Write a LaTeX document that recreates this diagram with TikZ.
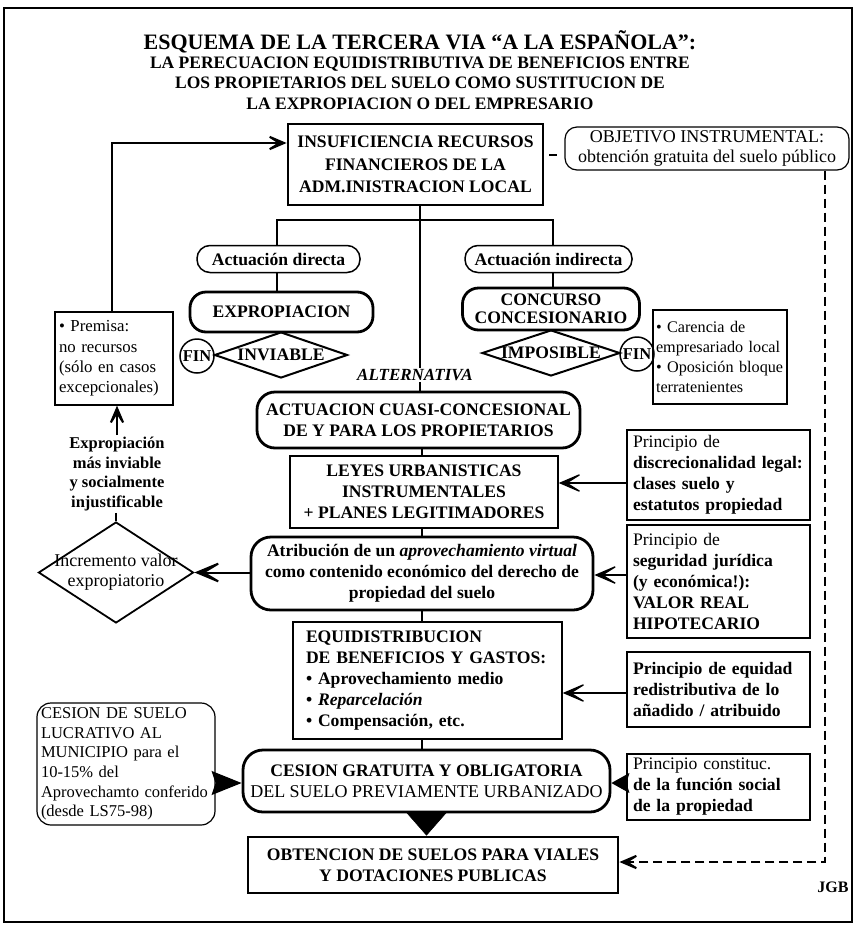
\documentclass[tikz,border=0pt]{standalone}
\usepackage{fontspec}
\setmainfont{Liberation Serif}
\usetikzlibrary{arrows.meta,shapes.geometric}

\newcommand\bodysize{\fontsize{17.6}{21}\selectfont}
\newcommand\sidesize{\fontsize{16.5}{19.6}\selectfont}

\tikzset{
  heavybox/.style={draw, line width=2.8pt, inner sep=0pt, align=center, font=\bodysize\bfseries},
  lightbox/.style={draw, line width=1.2pt, inner sep=0pt},
  notebox/.style={lightbox, align=left, inner xsep=4pt, font=\sidesize},
  principle/.style={lightbox, align=left, inner xsep=6pt, text width=171pt, minimum width=183pt, font=\bodysize},
  gate/.style={diamond, draw, line width=2pt, inner sep=0pt},
  endmark/.style={circle, draw, line width=1.5pt, minimum size=34pt, inner sep=0pt, font=\fontsize{16.5}{18}\selectfont\bfseries},
  trunk/.style={line width=2.8pt},
  bigbarb/.tip={Stealth[length=28pt,width=24pt,inset=19pt]},
  ptr/.style={line width=1.3pt, -bigbarb},
  heavyptr/.style={line width=2pt, -bigbarb},
  solidptr/.style={line width=1.3pt, -{Stealth[length=18pt,width=20pt,inset=3pt]}},
  dashline/.style={line width=2pt, dash pattern=on 9pt off 5pt},
}

\begin{document}
\begin{tikzpicture}[x=1pt,y=-1pt]
\useasboundingbox (0,0) rectangle (855,927);
\draw[line width=1.3pt] (4,8) rectangle (852,922);

% heading
\node[font=\fontsize{22}{26}\selectfont\bfseries] (t1) at (420,42)
  {ESQUEMA DE LA TERCERA VIA “A LA ESPAÑOLA”:};
\node[align=center, font=\fontsize{17.5}{20.3}\selectfont\bfseries] (t2) at (420,83)
  {LA PERECUACION EQUIDISTRIBUTIVA DE BENEFICIOS ENTRE\\
   LOS PROPIETARIOS DEL SUELO COMO SUSTITUCION DE\\
   LA EXPROPIACION O DEL EMPRESARIO};

% helper positions
\coordinate (tr)  at (420,0);
\coordinate (cx)  at (422,0);
\coordinate (lbr) at (277,0);
\coordinate (rbr) at (553,0);
\coordinate (bar) at (0,220);
\coordinate (fb)  at (112,0);
\coordinate (ex)  at (117,0);
\coordinate (dl)  at (825,0);
\coordinate (y0)  at (0,143);
\coordinate (y1)  at (0,155);
\coordinate (y2)  at (0,862);
\coordinate (a1)  at (0,483);
\coordinate (a2)  at (0,575);
\coordinate (a3)  at (0,693);
\coordinate (a4)  at (0,783);

% central column
\node[heavybox, minimum width=255pt, minimum height=81pt] (top) at (415.5,164.5)
  {INSUFICIENCIA RECURSOS\\[1.5pt]FINANCIEROS DE LA\\[1.5pt]ADM.INISTRACION LOCAL};

\node[lightbox, line width=1.2pt, rounded corners=12pt, minimum width=284pt, minimum height=43pt,
      align=center, font=\fontsize{18}{20}\selectfont] (obj) at (707,148.5)
  {OBJETIVO INSTRUMENTAL:\\obtención gratuita del suelo público};

\node[lightbox, line width=1.5pt, rounded corners=13pt, minimum width=163pt, minimum height=27pt,
      font=\bodysize\bfseries] (dir) at (278.5,259) {Actuación directa};
\node[lightbox, line width=1.5pt, rounded corners=13pt, minimum width=167pt, minimum height=27pt,
      font=\bodysize\bfseries] (ind) at (548.5,259) {Actuación indirecta};

\node[heavybox, rounded corners=16pt, minimum width=183pt, minimum height=40pt] (exp) at (281.5,312) {EXPROPIACION};
\node[heavybox, rounded corners=16pt, minimum width=177pt, minimum height=42pt] (con) at (551,309)
  {CONCURSO\\[-3pt]CONCESIONARIO};

\node[gate, minimum width=133pt, minimum height=46pt] (inv) at (281,355) {};
\node[font=\bodysize\bfseries] (invtxt) at (inv.center) {INVIABLE};
\node[gate, minimum width=138pt, minimum height=46pt] (imp) at (551,353) {};
\node[font=\bodysize\bfseries] (imptxt) at (imp.center) {IMPOSIBLE};

\node[endmark] (finl) at (197,356) {FIN};
\node[endmark] (finr) at (637,354) {FIN};

\node[notebox, inner xsep=3pt, text width=128pt, minimum height=94pt, font=\fontsize{16.2}{20.3}\selectfont] (car) at (720,357)
  {• Carencia de\\empresariado local\\• Oposición bloque\\terratenientes};
\node[notebox, text width=110pt, minimum height=93pt, font=\fontsize{16.8}{20.3}\selectfont] (prem) at (114,358.5)
  {• Premisa:\\no recursos\\(sólo en casos\\excepcionales)};

\node[font=\fontsize{17}{20}\selectfont\bfseries\itshape, inner sep=1pt] (alt) at (415,375) {ALTERNATIVA};

\node[heavybox, rounded corners=18pt, minimum width=323pt, minimum height=56pt] (cuasi) at (418.5,420)
  {ACTUACION CUASI-CONCESIONAL\\DE Y PARA LOS PROPIETARIOS};
\node[lightbox, line width=1.4pt, minimum width=268pt, minimum height=72pt, align=center,
      font=\bodysize\bfseries] (leyes) at (424,492)
  {LEYES URBANISTICAS\\INSTRUMENTALES\\+ PLANES LEGITIMADORES};
\node[heavybox, rounded corners=20pt, minimum width=342pt, minimum height=73pt] (atr) at (422,573.5)
  {Atribución de un \textit{aprovechamiento virtual}\\como contenido económico del derecho de\\propiedad del suelo};
\node[lightbox, line width=1.4pt, align=left, inner xsep=13pt, text width=243pt, minimum height=117pt,
      font=\bodysize\bfseries] (equi) at (427.5,680.5)
  {EQUIDISTRIBUCION\\DE BENEFICIOS Y GASTOS:\\• Aprovechamiento medio\\• \textit{Reparcelación}\\• Compensación, etc.};
\node[heavybox, rounded corners=20pt, minimum width=367pt, minimum height=62pt] (cesion) at (426.5,781)
  {CESION GRATUITA Y OBLIGATORIA\\{\mdseries\fontsize{18}{21}\selectfont DEL SUELO PREVIAMENTE URBANIZADO}};
\node[heavybox, minimum width=370pt, minimum height=56pt] (obt) at (433,865)
  {OBTENCION DE SUELOS PARA VIALES\\Y DOTACIONES PUBLICAS};

% left column
\node[align=center, font=\fontsize{16.5}{19.5}\selectfont\bfseries, inner sep=2pt] (why) at (117,474)
  {Expropiación\\más inviable\\y socialmente\\injustificable};
\node[gate, line width=1.8pt, minimum width=155pt, minimum height=101pt] (inc) at (116,572.5) {};
\node[align=center, font=\fontsize{18}{20}\selectfont] (inctxt) at (inc.center)
  {Incremento valor\\expropiatorio};
\node[notebox, rounded corners=14pt, text width=170pt, minimum height=122pt] (csuelo) at (126,764)
  {CESION DE SUELO\\LUCRATIVO AL\\MUNICIPIO para el\\10-15\% del\\Aprovechamto conferido\\(desde LS75-98)};

% right column of principles
\node[principle, minimum height=90pt] (p1) at (718.5,475)
  {Principio de\\\textbf{discrecionalidad legal:}\\\textbf{clases suelo y}\\\textbf{estatutos propiedad}};
\node[principle, minimum height=113pt] (p2) at (718.5,581.5)
  {Principio de\\\textbf{seguridad jurídica}\\\textbf{(y económica!):}\\\textbf{VALOR REAL}\\\textbf{HIPOTECARIO}};
\node[principle, minimum height=75pt, font=\bodysize\bfseries] (p3) at (718.5,689.5)
  {Principio de equidad\\redistributiva de lo\\añadido / atribuido};
\node[principle, minimum height=66pt] (p4) at (718.5,787)
  {Principio constituc.\\\textbf{de la función social}\\\textbf{de la propiedad}};

\node[font=\fontsize{16}{18}\selectfont\bfseries] (sig) at (833,887) {JGB};

% tree under the first box
\draw[trunk] (top.south -| tr) -- (alt.north -| tr);
\draw[trunk] (alt.south -| tr) -- (cuasi.north -| tr);
\draw[trunk] (lbr |- dir.north) -- (lbr |- bar) -- (rbr |- bar) -- (rbr |- ind.north);
\draw[trunk] (lbr |- dir.south) -- (lbr |- exp.north);
\draw[trunk] (rbr |- ind.south) -- (rbr |- con.north);

% links down the central column
\draw[trunk] (cx |- cuasi.south) -- (cx |- leyes.north);
\draw[trunk] (cx |- leyes.south) -- (cx |- atr.north);
\draw[trunk] (cx |- atr.south) -- (cx |- equi.north);
\draw[trunk] (cx |- equi.south) -- (cx |- cesion.north);
\draw[line width=0.5pt, -{Triangle[length=24pt,width=42pt]}] (cesion.south) -- (cesion.south |- obt.north);

% feedback to the first box
\draw[heavyptr] (prem.north -| fb) |- (top.west |- y0);
\draw[heavyptr] (why.north -| ex) -- (prem.south -| ex);
\draw[line width=1.5pt] (why.south -| inc.north) -- (inc.north);
\draw[line width=2pt, -{Stealth[length=36pt,width=30pt,inset=25pt]}] (atr.west |- inc.east) -- (inc.east);

% principles feeding the column
\draw[ptr] (p1.west |- a1) -- (leyes.east |- a1);
\draw[ptr] (p2.west |- a2) -- (atr.east |- a2);
\draw[ptr] (p3.west |- a3) -- (equi.east |- a3);
\draw[solidptr] (p4.west |- a4) -- (cesion.east |- a4);
\draw[line width=1.5pt, -{Stealth[length=30pt,width=24pt,inset=4pt]}] (csuelo.east |- a4) -- (cesion.west |- a4);

% instrumental objective
\draw[line width=2pt, dash pattern=on 0pt off 5pt on 8pt off 30pt] (top.east |- y1) -- (obj.west |- y1);
\draw[dashline, -bigbarb] (obj.south -| dl) |- (obt.east |- y2);
\end{tikzpicture}
\end{document}
